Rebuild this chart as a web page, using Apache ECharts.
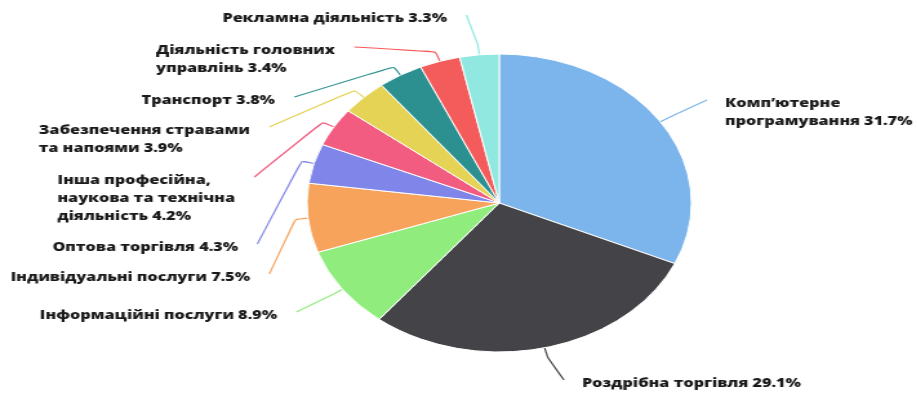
<!DOCTYPE html>
<html>
<head>
<meta charset="utf-8">
<script src="https://cdn.jsdelivr.net/npm/echarts@6/dist/echarts.min.js"></script>
<style>
  html, body { margin: 0; padding: 0; background: #fff; overflow: hidden; }
  /* the source picture is stretched sideways, so the chart is drawn narrow and widened */
  #main { width: 711px; height: 394px; transform: scaleX(1.29); transform-origin: 0 0; }
</style>
</head>
<body>
<div id="main"></div>
<script>
const categories = [
  'Комп’ютерне\nпрограмування',
  'Роздрібна торгівля',
  'Інформаційні послуги',
  'Індивідуальні послуги',
  'Оптова торгівля',
  'Інша професійна,\nнаукова та технічна\nдіяльність',
  'Забезпечення стравами\nта напоями',
  'Транспорт',
  'Діяльність головних\nуправлінь',
  'Рекламна діяльність'
]
const shares = [31.7, 29.1, 8.9, 7.5, 4.3, 4.2, 3.9, 3.8, 3.4, 3.3]
const colors = ['#7cb5ec', '#434348', '#90ed7d', '#f7a35c', '#8085e9',
  '#f15c80', '#e4d354', '#2b908f', '#f45b5b', '#91e8e1']

// label placement, in page pixels: edge of the label next to the pie, and first line's middle
const labelEdgeX = [725, 582, 277, 250, 238, 235, 250, 275, 335, 447]
const labelLineY = [103, 383, 315, 277, 247, 180, 130, 100, 50, 18]

const SX = 1.29
const CX = 387
const CY = 203
const R = 149
const LINE_H = 18

const total = shares.reduce((a, b) => a + b, 0)
const midAngles = []
let acc = 0
shares.forEach(v => {
  midAngles.push((acc + v / 2) / total * Math.PI * 2)
  acc += v
})

const chart = echarts.init(document.getElementById('main'))

const option = {
  animation: false,
  color: colors,
  series: [
    {
      type: 'pie',
      center: [CX, CY],
      radius: [0, R],
      startAngle: 90,
      clockwise: true,
      itemStyle: {
        borderColor: '#ffffff',
        borderWidth: 1
      },
      label: {
        show: true,
        formatter: '{b} {c}%',
        fontFamily: 'Open Sans',
        fontWeight: 800,
        fontSize: 12.5,
        lineHeight: LINE_H,
        overflow: 'none',
        color: '#1a1a1a'
      },
      labelLine: {
        show: true,
        length: 10,
        length2: 10,
        smooth: 0.15,
        lineStyle: { width: 1.2 }
      },
      labelLayout: function (params) {
        const i = params.dataIndex
        const a = midAngles[i]
        const right = Math.sin(a) > 0
        const w = params.labelRect.width
        const ex = labelEdgeX[i] / SX
        const p0 = [CX + R * Math.sin(a), CY - R * Math.cos(a)]
        const p1 = [CX + (R + 10) * Math.sin(a), CY - (R + 10) * Math.cos(a)]
        const p2 = [right ? ex - 14 : ex + 15, labelLineY[i] - 3]
        return {
          x: right ? ex : ex - w,
          y: labelLineY[i] - LINE_H / 2,
          align: 'left',
          verticalAlign: 'top',
          labelLinePoints: [p0, p1, p2]
        }
      },
      data: categories.map((name, i) => ({ name: name, value: shares[i] }))
    }
  ]
}

chart.setOption(option)
</script>
</body>
</html>
